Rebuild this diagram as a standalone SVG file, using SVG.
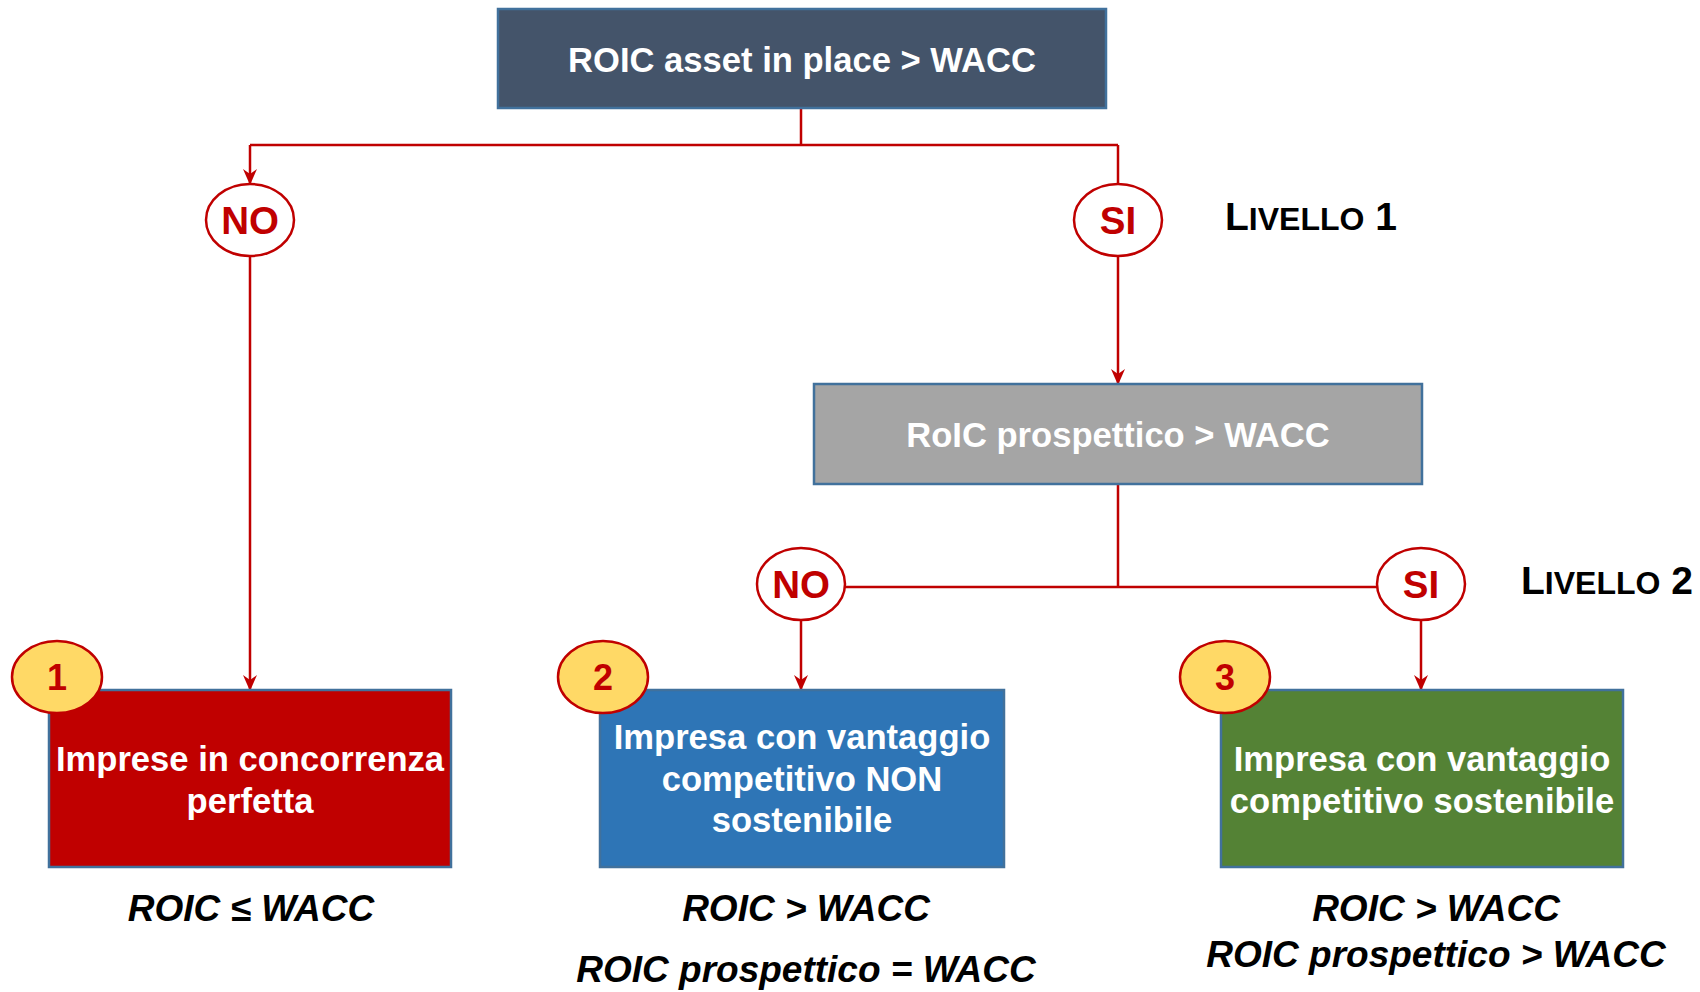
<svg xmlns="http://www.w3.org/2000/svg" width="1700" height="992" viewBox="0 0 1700 992">
<defs>
<marker id="arr" viewBox="0 0 16 16" refX="15" refY="8" markerWidth="16" markerHeight="16" markerUnits="userSpaceOnUse" orient="auto">
<path d="M0,1 L16,8 L0,15 L5,8 z" fill="#C00000"/>
</marker>
<style>
.box{stroke:#41719C;stroke-width:2.5}
.bt{font-family:"Liberation Sans",Arial,sans-serif;font-weight:bold;fill:#fff;font-size:34.6px;text-anchor:middle}
.lab{fill:#fff;stroke:#C00000;stroke-width:2.5}
.lt{font-family:"Liberation Sans",Arial,sans-serif;font-weight:bold;fill:#C00000;font-size:38.5px;text-anchor:middle}
.badge{fill:#FFD966;stroke:#C00000;stroke-width:2.5}
.bn{font-family:"Liberation Sans",Arial,sans-serif;font-weight:bold;fill:#C00000;font-size:36px;text-anchor:middle}
.cond{font-family:"Liberation Sans",Arial,sans-serif;font-weight:bold;font-style:italic;fill:#000;font-size:37px;text-anchor:middle}
.lv{font-family:"Liberation Sans",Arial,sans-serif;font-weight:bold;fill:#000;font-size:39px}
.conn{fill:none;stroke:#C00000;stroke-width:2.5}
</style>
</defs>
<rect width="1700" height="992" fill="#fff"/>
<g id="connectors">
<path class="conn" d="M801,108 V145 M250,145 H1118"/>
<path class="conn" d="M250,145 V184" marker-end="url(#arr)"/>
<path class="conn" d="M1118,145 V184"/>
<path class="conn" d="M250,256 V690" marker-end="url(#arr)"/>
<path class="conn" d="M1118,256 V384" marker-end="url(#arr)"/>
<path class="conn" d="M1118,484 V587 M845,587 H1377"/>
<path class="conn" d="M801,620 V690" marker-end="url(#arr)"/>
<path class="conn" d="M1421,620 V690" marker-end="url(#arr)"/>
</g>
<g id="root">
<rect class="box" x="498" y="9" width="608" height="99" fill="#44546A"/>
<text class="bt" x="802" y="72">ROIC asset in place &gt; WACC</text>
</g>
<g id="no1">
<ellipse class="lab" cx="250" cy="220" rx="44" ry="36"/>
<text class="lt" x="250" y="234">NO</text>
</g>
<g id="si1">
<ellipse class="lab" cx="1118" cy="220" rx="44" ry="36"/>
<text class="lt" x="1118" y="234">SI</text>
</g>
<g id="livello1">
<text class="lv" x="1225" y="230">L<tspan font-size="32">IVELLO</tspan> 1</text>
</g>
<g id="prospettico">
<rect class="box" x="814" y="384" width="608" height="100" fill="#A5A5A5"/>
<text class="bt" x="1118" y="447">RoIC prospettico &gt; WACC</text>
</g>
<g id="no2">
<ellipse class="lab" cx="801" cy="584" rx="44" ry="36"/>
<text class="lt" x="801" y="598">NO</text>
</g>
<g id="si2">
<ellipse class="lab" cx="1421" cy="584" rx="44" ry="36"/>
<text class="lt" x="1421" y="598">SI</text>
</g>
<g id="livello2">
<text class="lv" x="1521" y="594">L<tspan font-size="32">IVELLO</tspan> 2</text>
</g>
<g id="box1">
<rect class="box" x="49" y="690" width="402" height="177" fill="#C00000"/>
<text class="bt" x="250" y="771">Imprese in concorrenza</text>
<text class="bt" x="250" y="813">perfetta</text>
</g>
<g id="box2">
<rect class="box" x="600" y="690" width="404" height="177" fill="#2E75B6"/>
<text class="bt" x="802" y="749">Impresa con vantaggio</text>
<text class="bt" x="802" y="791">competitivo NON</text>
<text class="bt" x="802" y="832">sostenibile</text>
</g>
<g id="box3">
<rect class="box" x="1221" y="690" width="402" height="177" fill="#548235"/>
<text class="bt" x="1422" y="771">Impresa con vantaggio</text>
<text class="bt" x="1422" y="813">competitivo sostenibile</text>
</g>
<g id="badge1">
<ellipse class="badge" cx="57" cy="677" rx="45" ry="36"/>
<text class="bn" x="57" y="690">1</text>
</g>
<g id="badge2">
<ellipse class="badge" cx="603" cy="677" rx="45" ry="36"/>
<text class="bn" x="603" y="690">2</text>
</g>
<g id="badge3">
<ellipse class="badge" cx="1225" cy="677" rx="45" ry="36"/>
<text class="bn" x="1225" y="690">3</text>
</g>
<g id="cond1">
<text class="cond" x="251" y="921">ROIC ≤ WACC</text>
</g>
<g id="cond2">
<text class="cond" x="806" y="921">ROIC &gt; WACC</text>
<text class="cond" x="806" y="982">ROIC prospettico = WACC</text>
</g>
<g id="cond3">
<text class="cond" x="1436" y="921">ROIC &gt; WACC</text>
<text class="cond" x="1436" y="967">ROIC prospettico &gt; WACC</text>
</g>
</svg>
